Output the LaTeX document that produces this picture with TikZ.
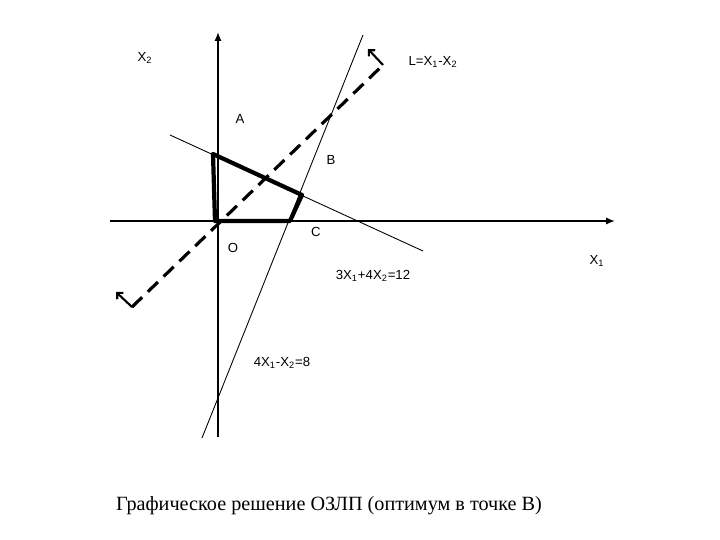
\documentclass[tikz,border=0pt]{standalone}
\usepackage{fontspec}
\setmainfont{Liberation Serif}
\setsansfont{Liberation Sans}
\usetikzlibrary{arrows.meta}

\tikzset{
  lbl/.style={font=\sffamily\fontsize{7.5}{9}\selectfont, inner sep=1pt},
  axis/.style={line width=0.9pt, -{Latex[length=5pt,width=4pt]}},
  bound/.style={line width=0.5pt},
  region/.style={line width=2.4pt, line join=round},
  objective/.style={line width=1.8pt, dash pattern=on 8pt off 4.5pt},
  normal/.style={line width=1.2pt, -{Straight Barb[length=2.5pt,width=5pt]}}
}

\begin{document}
\begin{tikzpicture}[x=0.02cm, y=-0.02cm]
            \useasboundingbox (0,0) rectangle (720,540);

            % axes
            \coordinate (X1start) at (110,221);
            \coordinate (X1end) at (615,221);
            \coordinate (X2start) at (218,437);
            \coordinate (X2end) at (218,32);
            \draw[axis] (X1start) -- (X1end);
            \draw[axis] (X2start) -- (X2end);

            % constraint lines
            \coordinate (ConA) at (170,135);
            \coordinate (ConB) at (423,251);
            \coordinate (ConC) at (363,35);
            \coordinate (ConD) at (202,438);
            \draw[bound] (ConA) -- (ConB);
            \draw[bound] (ConC) -- (ConD);

            % feasible region
            \coordinate (O) at (215,221);
            \coordinate (A) at (213,154);
            \coordinate (B) at (302,195);
            \coordinate (C) at (290,221);
            \draw[region] (O) -- (A) -- (B) -- (C) -- cycle;

            % objective line
            \coordinate (Lbottom) at (132,307);
            \coordinate (Ltop) at (383,65);
            \coordinate (Nbottom) at (116,292);
            \coordinate (Ntop) at (368,49);
            \draw[objective] (Lbottom) -- (Ltop);
            \draw[normal] (Ltop) -- (Ntop);
            \draw[normal] (Lbottom) -- (Nbottom);

            % labels
            \node[lbl] (LabelX2) at (145,58) {X\textsubscript{2}};
            \node[lbl] (LabelL) at (433,62) {L=X\textsubscript{1}-X\textsubscript{2}};
            \node[lbl] (LabelA) at (240,119) {A};
            \node[lbl] (LabelB) at (331,160) {B};
            \node[lbl] (LabelC) at (316,232) {C};
            \node[lbl] (LabelO) at (233,248) {O};
            \node[lbl] (LabelX1) at (597,261) {X\textsubscript{1}};
            \node[lbl] (LabelConA) at (373,276) {3X\textsubscript{1}+4X\textsubscript{2}=12};
            \node[lbl] (LabelConC) at (282,363) {4X\textsubscript{1}-X\textsubscript{2}=8};

            \node[font=\rmfamily\fontsize{11.5}{14}\selectfont] (Caption) at (329,506) {Графическое решение ОЗЛП (оптимум в точке В)};
        \end{tikzpicture}
\end{document}
